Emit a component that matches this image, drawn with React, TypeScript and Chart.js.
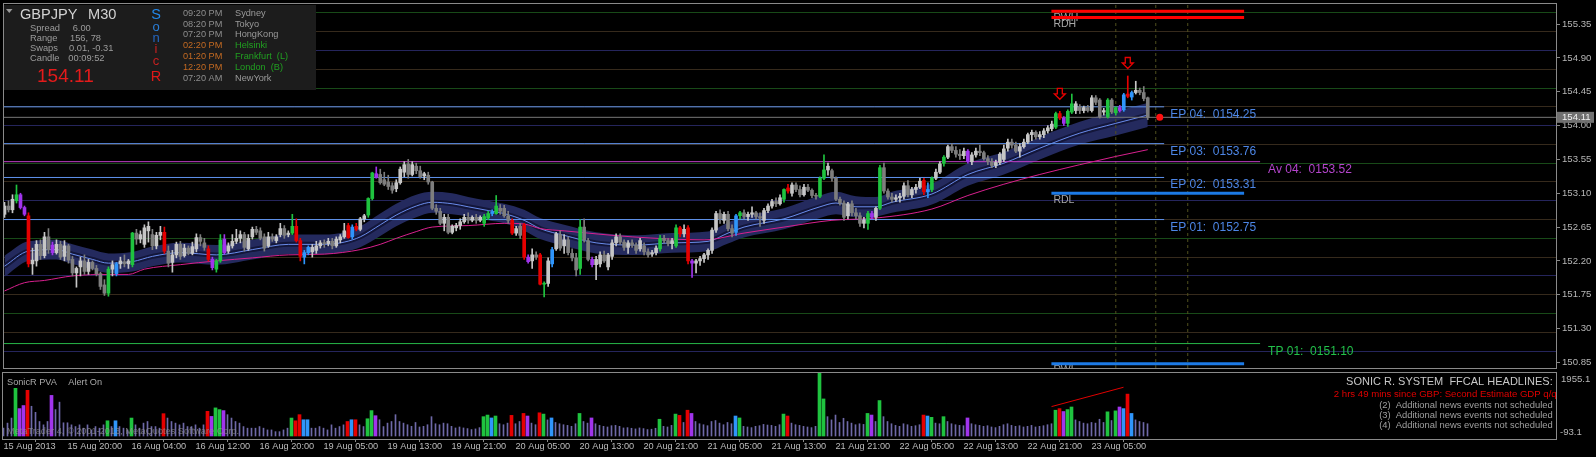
import React, { useEffect, useRef } from "react";
import { Chart, registerables } from "chart.js";

Chart.register(...registerables);

const FONT = "'Liberation Sans', Arial, Helvetica, sans-serif";

// ---------------- axes ----------------
const timeTickIdx = [0, 16, 32, 48, 64, 80, 96, 112, 128, 144, 160, 176, 192, 208, 224, 240, 256, 272];
const timeTickLabels = ["15 Aug 2013", "15 Aug 20:00", "16 Aug 04:00", "16 Aug 12:00", "16 Aug 20:00", "19 Aug 05:00", "19 Aug 13:00", "19 Aug 21:00", "20 Aug 05:00", "20 Aug 13:00", "20 Aug 21:00", "21 Aug 05:00", "21 Aug 13:00", "21 Aug 21:00", "22 Aug 05:00", "22 Aug 13:00", "22 Aug 21:00", "23 Aug 05:00"];
const priceTicks = [155.35, 154.9, 154.45, 154.0, 153.55, 153.1, 152.65, 152.2, 151.75, 151.3, 150.85];
const gridLevels = [151.0, 151.25, 151.5, 151.75, 152.0, 152.25, 152.5, 152.75, 153.0, 153.25, 153.5, 153.75, 154.0, 154.25, 154.5, 154.75, 155.0, 155.25, 155.5];
const volAxisLabels = ["1955.1", "-93.1"];

// ---------------- candles (GBPJPY M30) ----------------
// u = normal bull, d = normal bear, g = climax bull, r = climax bear, b = rising bull, p = rising bear
const candleTypes = (
  "udugppruud" + "udpududduu" + "duddddgubu" + "dugduuuduu" + "rduududuud" +
  "drpggpuuuu" + "duuddduduu" + "dugrrbbuuu" + "duduuurbru" + "uggpdddduu" +
  "ududdudddd" + "uduuuududu" + "ggbgdddrud" + "rpudrgubud" + "udddgddpuu" +
  "duuudduddu" + "dduugddugr" + "urpuuuuuud" + "uddbgduudd" + "uuudugrudd" +
  "udddgguddd" + "dudddugpug" + "ddduuuduuu" + "rbguuguddd" + "upuudddduu" +
  "uudduuuudu" + "uuugrpggud" + "ududdugdgp" + "brbuddd"
).split("");

const opens = [
  152.82,152.93,152.88,153.00,153.08,152.91,152.80,152.16,152.20,152.42,
  152.27,152.52,152.41,152.31,152.42,152.26,152.40,152.22,152.04,152.12,
  152.20,152.06,152.18,152.10,152.03,151.88,151.77,152.09,152.03,152.16,
  152.19,152.16,152.15,152.57,152.49,152.42,152.60,152.55,152.40,152.54,
  152.58,152.33,152.18,152.28,152.42,152.27,152.37,152.30,152.36,152.51,
  152.44,152.36,152.22,152.09,152.20,152.49,152.33,152.40,152.46,152.50,
  152.55,152.36,152.52,152.62,152.60,152.52,152.40,152.52,152.47,152.55,
  152.63,152.55,152.57,152.66,152.47,152.25,152.31,152.32,152.34,152.40,
  152.44,152.43,152.46,152.40,152.48,152.52,152.67,152.52,152.66,152.62,
  152.76,152.81,153.03,153.36,153.35,153.28,153.25,153.20,153.16,153.24,
  153.38,153.49,153.35,153.46,153.40,153.33,153.34,153.25,152.90,152.86,
  152.70,152.78,152.58,152.64,152.67,152.72,152.78,152.74,152.78,152.74,
  152.70,152.77,152.83,152.83,152.90,152.90,152.80,152.74,152.57,152.66,
  152.68,152.25,152.20,152.28,152.28,151.89,151.90,152.16,152.36,152.55,
  152.40,152.48,152.30,152.24,152.10,152.65,152.47,152.22,152.15,152.16,
  152.28,152.12,152.26,152.44,152.52,152.45,152.38,152.44,152.41,152.36,
  152.40,152.32,152.29,152.31,152.36,152.50,152.47,152.43,152.40,152.64,
  152.56,152.64,152.20,152.17,152.20,152.23,152.28,152.34,152.61,152.83,
  152.74,152.82,152.63,152.58,152.80,152.84,152.79,152.82,152.84,152.79,
  152.74,152.87,152.93,152.99,152.96,153.02,153.17,153.10,153.21,153.15,
  153.08,153.18,153.14,153.07,153.06,153.30,153.41,153.40,153.30,153.02,
  152.97,152.80,152.96,152.84,152.80,152.70,152.70,152.83,152.78,152.90,
  153.44,153.13,153.05,153.02,153.04,153.06,153.20,153.08,153.15,153.18,
  153.27,153.12,153.15,153.30,153.38,153.50,153.58,153.72,153.67,153.62,
  153.60,153.66,153.52,153.61,153.66,153.64,153.56,153.52,153.47,153.51,
  153.55,153.70,153.78,153.74,153.66,153.72,153.78,153.88,153.91,153.85,
  153.88,153.93,153.96,153.98,154.16,154.10,154.03,154.18,154.20,154.25,
  154.20,154.24,154.20,154.37,154.34,154.18,154.12,154.34,154.17,154.24,
  154.21,154.42,154.38,154.44,154.47,154.44,154.37,
];
const highs = [
  152.98,153.00,153.08,153.21,153.10,152.93,152.84,152.37,152.47,152.48,
  152.58,152.63,152.45,152.48,152.46,152.47,152.42,152.26,152.12,152.25,
  152.28,152.22,152.20,152.14,152.05,151.95,152.12,152.20,152.18,152.25,
  152.28,152.22,152.58,152.62,152.60,152.68,152.72,152.62,152.58,152.66,
  152.65,152.40,152.34,152.45,152.46,152.42,152.40,152.45,152.56,152.55,
  152.50,152.40,152.25,152.22,152.55,152.55,152.44,152.55,152.62,152.60,
  152.58,152.55,152.65,152.66,152.64,152.56,152.58,152.56,152.55,152.70,
  152.67,152.60,152.82,152.76,152.50,152.34,152.40,152.42,152.46,152.47,
  152.48,152.50,152.50,152.52,152.55,152.70,152.70,152.68,152.70,152.78,
  152.82,153.04,153.38,153.45,153.42,153.38,153.34,153.24,153.28,153.45,
  153.52,153.55,153.52,153.50,153.46,153.38,153.38,153.26,152.95,152.90,
  152.82,152.82,152.68,152.70,152.76,152.82,152.84,152.80,152.82,152.80,
  152.82,152.86,152.88,153.07,152.95,152.94,152.86,152.76,152.66,152.70,
  152.70,152.28,152.36,152.32,152.30,151.92,152.24,152.38,152.58,152.60,
  152.55,152.52,152.36,152.30,152.75,152.76,152.50,152.25,152.26,152.32,
  152.33,152.30,152.48,152.56,152.56,152.48,152.47,152.48,152.44,152.50,
  152.44,152.36,152.34,152.40,152.54,152.54,152.50,152.50,152.68,152.66,
  152.68,152.67,152.22,152.22,152.26,152.30,152.36,152.64,152.86,152.88,
  152.85,152.86,152.68,152.82,152.86,152.88,152.85,152.92,152.86,152.84,
  152.90,152.96,153.02,153.04,153.08,153.16,153.22,153.24,153.24,153.20,
  153.22,153.22,153.16,153.10,153.32,153.61,153.50,153.42,153.32,153.05,
  153.00,152.98,153.00,152.90,152.84,152.78,152.86,152.86,152.92,153.47,
  153.50,153.16,153.10,153.08,153.10,153.24,153.27,153.18,153.22,153.30,
  153.30,153.24,153.32,153.42,153.52,153.60,153.74,153.76,153.72,153.68,
  153.70,153.68,153.64,153.70,153.74,153.66,153.60,153.56,153.54,153.64,
  153.74,153.82,153.82,153.78,153.76,153.82,153.90,153.94,153.93,153.92,
  153.96,154.00,154.06,154.18,154.19,154.12,154.21,154.42,154.32,154.28,
  154.26,154.27,154.40,154.40,154.36,154.23,154.36,154.36,154.25,154.27,
  154.43,154.66,154.46,154.59,154.50,154.52,154.38,
];
const lows = [
  152.78,152.85,152.84,152.97,152.89,152.80,152.12,152.02,152.13,152.22,
  152.24,152.30,152.28,152.29,152.22,152.20,152.17,152.00,151.85,152.00,
  152.02,152.02,152.08,152.00,151.82,151.74,151.73,152.00,152.00,152.10,
  152.12,152.10,152.12,152.42,152.44,152.38,152.45,152.35,152.36,152.48,
  152.30,152.12,152.05,152.24,152.22,152.25,152.28,152.28,152.32,152.40,
  152.34,152.20,152.08,152.05,152.18,152.29,152.30,152.37,152.43,152.44,
  152.33,152.34,152.49,152.55,152.48,152.33,152.38,152.46,152.44,152.52,
  152.50,152.52,152.55,152.45,152.20,152.16,152.28,152.25,152.30,152.37,
  152.38,152.40,152.36,152.38,152.44,152.50,152.50,152.49,152.60,152.60,
  152.72,152.78,153.01,153.30,153.22,153.20,153.15,153.10,153.12,153.22,
  153.32,153.30,153.33,153.36,153.30,153.28,153.22,152.88,152.82,152.68,
  152.60,152.56,152.56,152.60,152.62,152.70,152.70,152.72,152.70,152.72,
  152.66,152.75,152.80,152.82,152.82,152.78,152.70,152.55,152.54,152.50,
  152.22,152.17,152.10,152.22,151.88,151.72,151.86,152.12,152.34,152.34,
  152.30,152.28,152.20,152.00,152.02,152.45,152.20,152.12,151.95,152.12,
  152.18,152.08,152.22,152.40,152.42,152.34,152.30,152.38,152.30,152.33,
  152.28,152.25,152.26,152.28,152.33,152.44,152.40,152.36,152.38,152.52,
  152.52,152.16,151.98,152.04,152.14,152.18,152.22,152.30,152.58,152.70,
  152.70,152.60,152.52,152.54,152.76,152.76,152.74,152.78,152.76,152.66,
  152.70,152.84,152.90,152.92,152.94,152.98,153.10,153.06,153.12,153.05,
  153.06,153.12,153.04,153.02,153.04,153.28,153.34,153.26,153.00,152.94,
  152.74,152.76,152.80,152.76,152.66,152.64,152.62,152.76,152.74,152.88,
  153.10,153.02,152.98,152.99,152.98,153.02,153.05,153.04,153.10,153.16,
  153.08,153.04,153.12,153.28,153.36,153.46,153.56,153.64,153.58,153.55,
  153.56,153.50,153.48,153.58,153.60,153.54,153.48,153.44,153.44,153.48,
  153.52,153.66,153.70,153.64,153.58,153.70,153.76,153.80,153.82,153.82,
  153.84,153.90,153.93,153.96,154.08,154.00,153.99,154.16,154.16,154.16,
  154.17,154.18,154.18,154.28,154.10,154.14,154.10,154.16,154.14,154.18,
  154.19,154.37,154.34,154.42,154.41,154.33,154.08,
];
const closes = [
  152.93,152.88,153.02,153.08,152.91,152.82,152.16,152.21,152.42,152.27,
  152.52,152.35,152.31,152.42,152.25,152.40,152.21,152.04,152.10,152.20,
  152.06,152.18,152.10,152.03,151.86,151.77,152.09,152.15,152.16,152.20,
  152.16,152.20,152.57,152.49,152.55,152.64,152.66,152.40,152.54,152.58,
  152.33,152.17,152.28,152.42,152.26,152.37,152.30,152.39,152.51,152.46,
  152.38,152.22,152.11,152.20,152.48,152.31,152.40,152.46,152.50,152.55,
  152.38,152.50,152.62,152.58,152.50,152.37,152.52,152.49,152.52,152.63,
  152.54,152.57,152.66,152.47,152.26,152.31,152.38,152.38,152.40,152.44,
  152.43,152.46,152.40,152.49,152.52,152.60,152.51,152.65,152.62,152.76,
  152.80,153.03,153.37,153.31,153.24,153.22,153.19,153.14,153.24,153.42,
  153.48,153.35,153.48,153.40,153.32,153.36,153.25,152.90,152.86,152.70,
  152.78,152.58,152.66,152.67,152.72,152.78,152.74,152.78,152.74,152.78,
  152.79,152.83,152.85,152.93,152.86,152.80,152.74,152.57,152.63,152.54,
  152.25,152.19,152.28,152.25,151.89,151.90,152.20,152.35,152.56,152.37,
  152.48,152.31,152.24,152.08,152.65,152.48,152.22,152.15,152.22,152.28,
  152.20,152.28,152.44,152.52,152.45,152.38,152.44,152.41,152.34,152.47,
  152.32,152.28,152.31,152.37,152.50,152.47,152.43,152.47,152.64,152.56,
  152.62,152.20,152.17,152.20,152.23,152.28,152.34,152.61,152.83,152.76,
  152.82,152.63,152.57,152.80,152.84,152.79,152.82,152.84,152.79,152.77,
  152.87,152.93,152.99,152.96,153.04,153.15,153.13,153.21,153.15,153.08,
  153.18,153.14,153.07,153.06,153.30,153.41,153.46,153.30,153.02,152.97,
  152.78,152.96,152.84,152.80,152.70,152.74,152.83,152.78,152.90,153.44,
  153.13,153.05,153.02,153.04,153.06,153.20,153.08,153.15,153.18,153.26,
  153.12,153.15,153.30,153.38,153.49,153.58,153.72,153.67,153.62,153.60,
  153.66,153.52,153.61,153.66,153.64,153.56,153.52,153.47,153.51,153.62,
  153.69,153.78,153.74,153.66,153.72,153.78,153.88,153.91,153.85,153.88,
  153.93,153.97,154.02,154.16,154.10,154.03,154.19,154.29,154.29,154.20,
  154.24,154.20,154.37,154.31,154.12,154.20,154.34,154.18,154.24,154.20,
  154.41,154.39,154.44,154.47,154.44,154.36,154.11,
];
const volumes = [
  243,400,557,1480,850,945,1418,923,735,450,
  346,450,1260,819,1050,410,410,346,293,346,
  243,346,189,293,243,346,472,293,472,293,
  243,189,557,346,243,400,450,293,293,243,
  693,557,450,400,346,400,293,293,346,243,
  346,765,608,872,819,788,662,557,450,400,
  293,243,243,243,293,243,189,189,135,135,
  189,243,557,472,662,504,504,243,243,293,
  243,189,346,243,293,346,450,504,504,346,
  293,535,788,630,504,293,400,450,662,450,
  400,350,300,420,280,300,350,600,380,350,
  400,380,300,250,280,250,230,200,220,260,
  600,650,560,620,380,350,400,640,380,450,
  700,620,400,350,720,680,500,560,420,380,
  350,330,300,380,700,450,400,560,380,330,
  300,280,320,330,300,250,260,240,220,250,
  230,200,210,240,520,300,280,330,680,640,
  420,800,700,450,380,350,320,450,480,400,
  350,420,380,620,560,300,280,260,300,320,
  360,340,330,300,350,680,620,400,350,330,
  300,280,260,300,1950,1150,600,500,650,420,
  550,450,400,350,380,360,700,650,450,1100,
  600,450,380,330,300,380,350,300,320,350,
  650,620,580,400,380,600,450,380,350,330,
  320,560,380,350,330,300,320,280,260,300,
  350,380,330,300,320,280,300,330,280,300,
  320,350,380,800,850,760,820,900,500,450,
  400,380,420,400,520,420,750,480,780,900,
  850,1300,700,500,450,420,380,
];

// ---------------- indicators ----------------
const bandIdx = [0,6,13,17,22,26,32,37,44,53,62,71,80,85,89,94,98,103,107,112,116,121,125,130,134,140,148,158,167,176,181,185,195,204,208,213,218,222,232,241,250,259,269,278,286];
const bandMid = [152.13,152.33,152.35,152.29,152.22,152.17,152.19,152.26,152.31,152.28,152.35,152.42,152.42,152.45,152.52,152.68,152.81,152.93,152.98,152.96,152.92,152.87,152.83,152.74,152.63,152.54,152.44,152.41,152.44,152.46,152.57,152.65,152.76,152.92,152.97,152.92,152.92,152.98,153.09,153.35,153.50,153.70,153.90,154.03,154.14];
const bandHi = [152.27,152.46,152.48,152.42,152.35,152.30,152.32,152.39,152.44,152.41,152.48,152.55,152.55,152.58,152.66,152.83,152.96,153.08,153.12,153.10,153.05,153.00,152.96,152.88,152.77,152.68,152.58,152.54,152.57,152.59,152.71,152.79,152.90,153.07,153.12,153.06,153.05,153.12,153.23,153.50,153.65,153.85,154.05,154.19,154.30];
const bandLo = [151.99,152.20,152.22,152.16,152.09,152.04,152.06,152.13,152.18,152.15,152.22,152.29,152.29,152.32,152.38,152.53,152.66,152.78,152.84,152.82,152.79,152.74,152.70,152.60,152.49,152.40,152.30,152.28,152.31,152.33,152.43,152.51,152.62,152.77,152.82,152.78,152.79,152.84,152.95,153.20,153.35,153.55,153.75,153.87,153.98];
const magIdx = [0,5,10,17,26,31,35,44,53,62,71,80,89,94,98,103,107,116,125,130,134,140,157,175,185,195,207,218,232,241,250,259,269,278,286];
const magVal = [151.80,151.91,151.94,152.00,152.02,152.02,152.09,152.15,152.20,152.24,152.28,152.29,152.35,152.42,152.50,152.59,152.65,152.67,152.70,152.69,152.63,152.60,152.52,152.48,152.57,152.65,152.74,152.77,152.89,153.07,153.22,153.35,153.48,153.59,153.68];

// ---------------- levels / annotations ----------------
const epNames = ["EP 04", "EP 03", "EP 02", "EP 01"];
const epPrices = [154.25, 153.76, 153.31, 152.75];
const epEndIdx = 290.1;
const avName = "Av 04";
const avPrice = 153.52;
const tpName = "TP 01";
const tpPrice = 151.1;
const sideEndIdx = 314.1;
const zoneNames = ["RWH", "RDH", "RDL", "RWL"];
const zonePrices = [155.52, 155.44, 153.1, 150.83];
const zoneStartIdx = 261.9;
const zoneEndIdx = 310.1;
const bidPrice = 154.11;
const markerIdx = 289;
const sessionIdx = [278, 288, 296];
const arrowIdx = [264, 281];
const arrowPrice = [154.35, 154.76];
const volTrendIdx = [262, 280];
const volTrendVal = [913, 1512];

const infoStats = [["Spread", "6.00"], ["Range", "156, 78"], ["Swaps", "0.01, -0.31"], ["Candle", "00:09:52"]];
const sessionTimes = ["09:20 PM", "08:20 PM", "07:20 PM", "02:20 PM", "01:20 PM", "12:20 PM", "07:20 AM"];
const sessionCities = ["Sydney", "Tokyo", "HongKong", "Helsinki", "Frankfurt  (L)", "London  (B)", "NewYork"];
const sessionOpen = [false, false, false, true, true, true, false];
const newsLines = ["(2)  Additional news events not scheduled", "(3)  Additional news events not scheduled", "(4)  Additional news events not scheduled"];

// ---------------- styling ----------------
const X_MIN = -0.125;
const X_MAX = 388.125;
const Y_MIN = 150.775;
const Y_MAX = 155.618;
const V_MIN = -93.1;
const V_MAX = 1955.1;
const TYPE_COLOR: Record<string, string> = { u: "#c6c6c6", d: "#7e7e7e", g: "#1fc33f", r: "#e50000", b: "#2f95fb", p: "#a034ec" };
const VOL_NORMAL = "#6e69a8";
const BORDER = "#8a8a8a";

function gridColor(v: number) {
  const f = Math.round((((v % 1) + 1) % 1) * 100);
  if (f === 0) return "#25255c";
  if (f === 50) return "#184a18";
  return "#362a1c";
}

function text(ctx: CanvasRenderingContext2D, s: string, x: number, y: number, color: string, size: number, align: CanvasTextAlign = "left") {
  ctx.font = `${size}px ${FONT}`;
  ctx.fillStyle = color;
  ctx.textAlign = align;
  ctx.textBaseline = "alphabetic";
  ctx.fillText(s, x, y);
}

function noPad(s: any) {
  s.paddingTop = 0;
  s.paddingBottom = 0;
  s.paddingLeft = 0;
  s.paddingRight = 0;
}

const N = Math.min(opens.length, highs.length, lows.length, closes.length, candleTypes.length, volumes.length);
const idxs = Array.from({ length: N }, (_, i) => i);

function lineDs(points: { x: number; y: number }[], color: string, width: number, order: number, extra: any = {}) {
  return {
    type: "line",
    data: points,
    borderColor: color,
    borderWidth: width,
    pointRadius: 0,
    fill: false,
    order,
    ...extra,
  };
}

function mainConfig() {
  const datasets: any[] = [];
  // dragon band
  datasets.push(lineDs(bandIdx.map((x, k) => ({ x, y: bandLo[k] })), "rgba(0,0,0,0)", 0, 100, { cubicInterpolationMode: "monotone" }));
  datasets.push(lineDs(bandIdx.map((x, k) => ({ x, y: bandHi[k] })), "rgba(0,0,0,0)", 0, 99, { cubicInterpolationMode: "monotone", fill: "-1", backgroundColor: "#242a5e" }));
  datasets.push(lineDs(bandIdx.map((x, k) => ({ x, y: bandMid[k] })), "#13163a", 5, 98, { cubicInterpolationMode: "monotone" }));
  datasets.push(lineDs(bandIdx.map((x, k) => ({ x, y: bandMid[k] })), "#6a8cec", 1, 97, { cubicInterpolationMode: "monotone" }));
  // level lines
  epPrices.forEach((p) => datasets.push(lineDs([{ x: X_MIN, y: p }, { x: epEndIdx, y: p }], "#5f93ee", 1, 60)));
  datasets.push(lineDs([{ x: X_MIN, y: avPrice }, { x: sideEndIdx, y: avPrice }], "#c23fc8", 1, 60));
  datasets.push(lineDs([{ x: X_MIN, y: tpPrice }, { x: sideEndIdx, y: tpPrice }], "#27b548", 1, 60));
  datasets.push(lineDs([{ x: X_MIN, y: bidPrice }, { x: X_MAX, y: bidPrice }], "#777777", 1, 61));
  zonePrices.forEach((p, k) =>
    datasets.push(lineDs([{ x: zoneStartIdx, y: p }, { x: zoneEndIdx, y: p }], k < 2 ? "#ff0000" : "#1c7ae6", 3, 55))
  );
  sessionIdx.forEach((x) =>
    datasets.push(lineDs([{ x, y: Y_MIN }, { x, y: Y_MAX }], "#50501e", 1, 70, { borderDash: [3, 3] }))
  );
  // magenta slow MA
  datasets.push(lineDs(magIdx.map((x, k) => ({ x, y: magVal[k] })), "#d8208e", 1, 50, { cubicInterpolationMode: "monotone" }));
  // candles
  datasets.push({
    type: "bar",
    data: idxs.map((i) => ({ x: i, y: [lows[i], highs[i]] })),
    backgroundColor: idxs.map((i) => TYPE_COLOR[candleTypes[i]]),
    barThickness: 1,
    grouped: false,
    borderWidth: 0,
    order: 20,
  });
  datasets.push({
    type: "bar",
    data: idxs.map((i) => ({ x: i, y: [Math.min(opens[i], closes[i]), Math.max(opens[i], closes[i])] })),
    backgroundColor: idxs.map((i) => TYPE_COLOR[candleTypes[i]]),
    barThickness: 3,
    minBarLength: 1,
    grouped: false,
    borderWidth: 0,
    order: 10,
  });
  // current price marker
  datasets.push({
    type: "line",
    data: [{ x: markerIdx, y: bidPrice }],
    showLine: false,
    pointRadius: 3.5,
    pointBackgroundColor: "#ff1010",
    pointBorderWidth: 0,
    order: 5,
  });

  const plugin = {
    id: "mainDecor",
    beforeDraw(chart: any) {
      const ctx = chart.ctx;
      ctx.save();
      ctx.fillStyle = "#000";
      ctx.fillRect(0, 0, chart.width, chart.height);
      ctx.restore();
    },
    beforeDatasetsDraw(chart: any) {
      const { ctx, chartArea: a, scales } = chart;
      const xs = scales.x, ys = scales.y;
      ctx.save();
      ctx.beginPath();
      ctx.rect(a.left, a.top, a.right - a.left, a.bottom - a.top);
      ctx.clip();
      zoneNames.forEach((n, k) => {
        const y = ys.getPixelForValue(zonePrices[k]);
        text(ctx, n, xs.getPixelForValue(zoneStartIdx) + 2, y + 9.6, "#a6a6a6", 10.5);
      });
      ctx.restore();
    },
    afterDraw(chart: any) {
      const { ctx, chartArea: a, scales } = chart;
      const xs = scales.x, ys = scales.y;
      ctx.save();
      // level labels
      epPrices.forEach((p, k) => {
        const y = ys.getPixelForValue(p);
        text(ctx, `${epNames[k]}:  0${p.toFixed(2)}`, xs.getPixelForValue(epEndIdx) + 6, y + 11, "#4d86e6", 12);
      });
      text(ctx, `${avName}:  0${avPrice.toFixed(2)}`, xs.getPixelForValue(sideEndIdx) + 8, ys.getPixelForValue(avPrice) + 11, "#b444cc", 12);
      text(ctx, `${tpName}:  0${tpPrice.toFixed(2)}`, xs.getPixelForValue(sideEndIdx) + 8, ys.getPixelForValue(tpPrice) + 11, "#22c04a", 12);
      // arrows
      ctx.strokeStyle = "#e60000";
      ctx.lineWidth = 1.3;
      arrowIdx.forEach((ix, k) => {
        const x = xs.getPixelForValue(ix);
        const yt = ys.getPixelForValue(arrowPrice[k]);
        ctx.beginPath();
        ctx.moveTo(x - 2.5, yt - 11);
        ctx.lineTo(x + 2.5, yt - 11);
        ctx.lineTo(x + 2.5, yt - 5.5);
        ctx.lineTo(x + 5.5, yt - 5.5);
        ctx.lineTo(x, yt);
        ctx.lineTo(x - 5.5, yt - 5.5);
        ctx.lineTo(x - 2.5, yt - 5.5);
        ctx.closePath();
        ctx.stroke();
      });
      // border
      ctx.strokeStyle = BORDER;
      ctx.lineWidth = 1;
      ctx.strokeRect(a.left - 0.5, a.top - 0.5, a.right - a.left + 1, a.bottom - a.top + 1);
      // current price box on axis
      const by = ys.getPixelForValue(bidPrice);
      ctx.fillStyle = "#707070";
      ctx.fillRect(a.right + 1, by - 5.5, 37, 11);
      ctx.font = `9.6px ${FONT}`;
      ctx.fillStyle = "#f2f2f2";
      ctx.textAlign = "left";
      ctx.textBaseline = "middle";
      ctx.fillText(bidPrice.toFixed(2), a.right + 6, by + 0.5);
      // info panel
      ctx.fillStyle = "#1c1c1c";
      ctx.fillRect(a.left, a.top + 1, 312, 85);
      ctx.fillStyle = "#9a9a9a";
      ctx.beginPath();
      ctx.moveTo(6, 9);
      ctx.lineTo(12.5, 9);
      ctx.lineTo(9.25, 13);
      ctx.closePath();
      ctx.fill();
      text(ctx, "GBPJPY", 20, 18.5, "#d2d2d2", 14.6);
      text(ctx, "M30", 88, 18.5, "#d2d2d2", 14.6);
      text(ctx, "S", 156, 18.5, "#2388ea", 14.5, "center");
      text(ctx, "o", 156, 30.8, "#2a7ed8", 13, "center");
      text(ctx, "n", 156, 41.8, "#2466c0", 13, "center");
      text(ctx, "i", 156, 52.8, "#c42020", 13, "center");
      text(ctx, "c", 156, 65, "#c42020", 13, "center");
      text(ctx, "R", 156, 81, "#e01818", 14.5, "center");
      const statY = [30.8, 41.1, 51.2, 61.2];
      const statX = [72.7, 70, 69, 68.3];
      infoStats.forEach((s, k) => {
        text(ctx, s[0], 30, statY[k], "#9c9c9c", 9.3);
        text(ctx, s[1], statX[k], statY[k], "#9c9c9c", 9.3);
      });
      text(ctx, "154.11", 37, 81.7, "#e41b1b", 19);
      sessionTimes.forEach((t, k) => {
        const y = 15.6 + k * 10.9;
        text(ctx, t, 183, y, sessionOpen[k] ? "#c46a22" : "#8e8e8e", 9.2);
        text(ctx, sessionCities[k], 235, y, sessionOpen[k] ? "#21a021" : "#9a9a9a", 9.2);
      });
      ctx.restore();
    },
  };

  return {
    type: "bar",
    data: { datasets },
    options: {
      animation: false,
      responsive: false,
      devicePixelRatio: 1,
      events: [],
      layout: { padding: { left: 3, top: 2, right: 0, bottom: 1 } },
      plugins: { legend: { display: false }, tooltip: { enabled: false } },
      scales: {
        x: { type: "linear", min: X_MIN, max: X_MAX, display: false, offset: false },
        y: {
          type: "linear",
          position: "right",
          min: Y_MIN,
          max: Y_MAX,
          afterBuildTicks: (s: any) => {
            s.ticks = priceTicks.map((v) => ({ value: v }));
          },
          afterFit: (s: any) => {
            s.width = 40;
            noPad(s);
          },
          grid: { drawOnChartArea: false, drawTicks: true, tickLength: 4, color: BORDER },
          border: { display: false },
          ticks: { color: "#b6b6b6", font: { family: FONT, size: 9.6 }, padding: 2, autoSkip: false, callback: (v: any) => Number(v).toFixed(2) },
        },
        yg: {
          type: "linear",
          position: "left",
          min: Y_MIN,
          max: Y_MAX,
          afterBuildTicks: (s: any) => {
            s.ticks = gridLevels.map((v) => ({ value: v }));
          },
          afterFit: (s: any) => {
            s.width = 0;
            noPad(s);
          },
          ticks: { display: false },
          grid: { drawTicks: false, color: (c: any) => gridColor(c.tick ? c.tick.value : 0), lineWidth: 1 },
          border: { display: false },
        },
      },
    },
    plugins: [plugin],
  };
}

function volConfig() {
  const normal = idxs.filter((i) => "ud".includes(candleTypes[i]));
  const colored = idxs.filter((i) => !"ud".includes(candleTypes[i]));
  const datasets: any[] = [
    {
      type: "bar",
      data: normal.map((i) => ({ x: i, y: volumes[i] })),
      backgroundColor: VOL_NORMAL,
      barThickness: 1,
      grouped: false,
      borderWidth: 0,
      order: 20,
    },
    {
      type: "bar",
      data: colored.map((i) => ({ x: i, y: volumes[i] })),
      backgroundColor: colored.map((i) => TYPE_COLOR[candleTypes[i]]),
      barThickness: 3,
      grouped: false,
      borderWidth: 0,
      order: 10,
    },
    lineDs(volTrendIdx.map((x, k) => ({ x, y: volTrendVal[k] })), "#e00000", 1, 5),
  ];

  const plugin = {
    id: "volDecor",
    beforeDraw(chart: any) {
      const ctx = chart.ctx;
      ctx.save();
      ctx.fillStyle = "#000";
      ctx.fillRect(0, 0, chart.width, chart.height);
      ctx.restore();
    },
    afterDraw(chart: any) {
      const { ctx, chartArea: a } = chart;
      ctx.save();
      ctx.strokeStyle = BORDER;
      ctx.lineWidth = 1;
      ctx.strokeRect(a.left - 0.5, a.top - 0.5, a.right - a.left + 1, a.bottom - a.top + 1);
      text(ctx, "SonicR PVA", 7, 13, "#a8a8a8", 9.2);
      text(ctx, "Alert On", 68.3, 13, "#a8a8a8", 9.2);
      text(ctx, "MetaTrader 4, \u00a9 2001-2013, MetaQuotes Software Corp.", 7, 62, "rgba(150,150,150,0.7)", 9.2);
      text(ctx, "SONIC R. SYSTEM  FFCAL HEADLINES:", 1552.7, 12.7, "#c8c8c8", 11, "right");
      text(ctx, "2 hrs 49 mins since GBP: Second Estimate GDP q/q", 1556.7, 24.8, "#e00000", 9.6, "right");
      newsLines.forEach((s, k) => text(ctx, s, 1552.7, 35.8 + k * 10, "#a0a0a0", 9.4, "right"));
      ctx.font = `9.6px ${FONT}`;
      ctx.fillStyle = "#b6b6b6";
      ctx.textAlign = "left";
      ctx.textBaseline = "middle";
      ctx.fillText(volAxisLabels[0], a.right + 5, 7.3);
      ctx.fillText(volAxisLabels[1], a.right + 4, 60);
      ctx.restore();
    },
  };

  return {
    type: "bar",
    data: { datasets },
    options: {
      animation: false,
      responsive: false,
      devicePixelRatio: 1,
      events: [],
      layout: { padding: { left: 3, top: 1, right: 40, bottom: 0 } },
      plugins: { legend: { display: false }, tooltip: { enabled: false } },
      scales: {
        x: {
          type: "linear",
          min: X_MIN,
          max: X_MAX,
          offset: false,
          position: "bottom",
          afterBuildTicks: (s: any) => {
            s.ticks = timeTickIdx.map((v) => ({ value: v }));
          },
          afterFit: (s: any) => {
            s.height = 18;
            noPad(s);
          },
          grid: { drawOnChartArea: false, drawTicks: true, tickLength: 3, color: BORDER },
          border: { display: false },
          ticks: {
            color: "#bcbcbc",
            font: { family: FONT, size: 9.2, lineHeight: 1 },
            padding: 0,
            align: "start",
            autoSkip: false,
            maxRotation: 0,
            minRotation: 0,
            callback: (_v: any, i: number) => timeTickLabels[i],
          },
        },
        y: { type: "linear", min: V_MIN, max: V_MAX, display: false },
      },
    },
    plugins: [plugin],
  };
}

export default function App() {
  const mainRef = useRef<HTMLCanvasElement>(null);
  const volRef = useRef<HTMLCanvasElement>(null);
  useEffect(() => {
    document.body.style.margin = "0";
    document.body.style.background = "#000";
    const c1 = new Chart(mainRef.current as HTMLCanvasElement, mainConfig() as any);
    const c2 = new Chart(volRef.current as HTMLCanvasElement, volConfig() as any);
    return () => {
      c1.destroy();
      c2.destroy();
    };
  }, []);
  return (
    <div style={{ position: "fixed", left: 0, top: 0, width: 1596, height: 457, background: "#000", overflow: "hidden" }}>
      <canvas ref={mainRef} width={1596} height={372} style={{ position: "absolute", left: 0, top: 0, width: 1596, height: 372 }} />
      <canvas ref={volRef} width={1596} height={85} style={{ position: "absolute", left: 0, top: 372, width: 1596, height: 85 }} />
    </div>
  );
}
